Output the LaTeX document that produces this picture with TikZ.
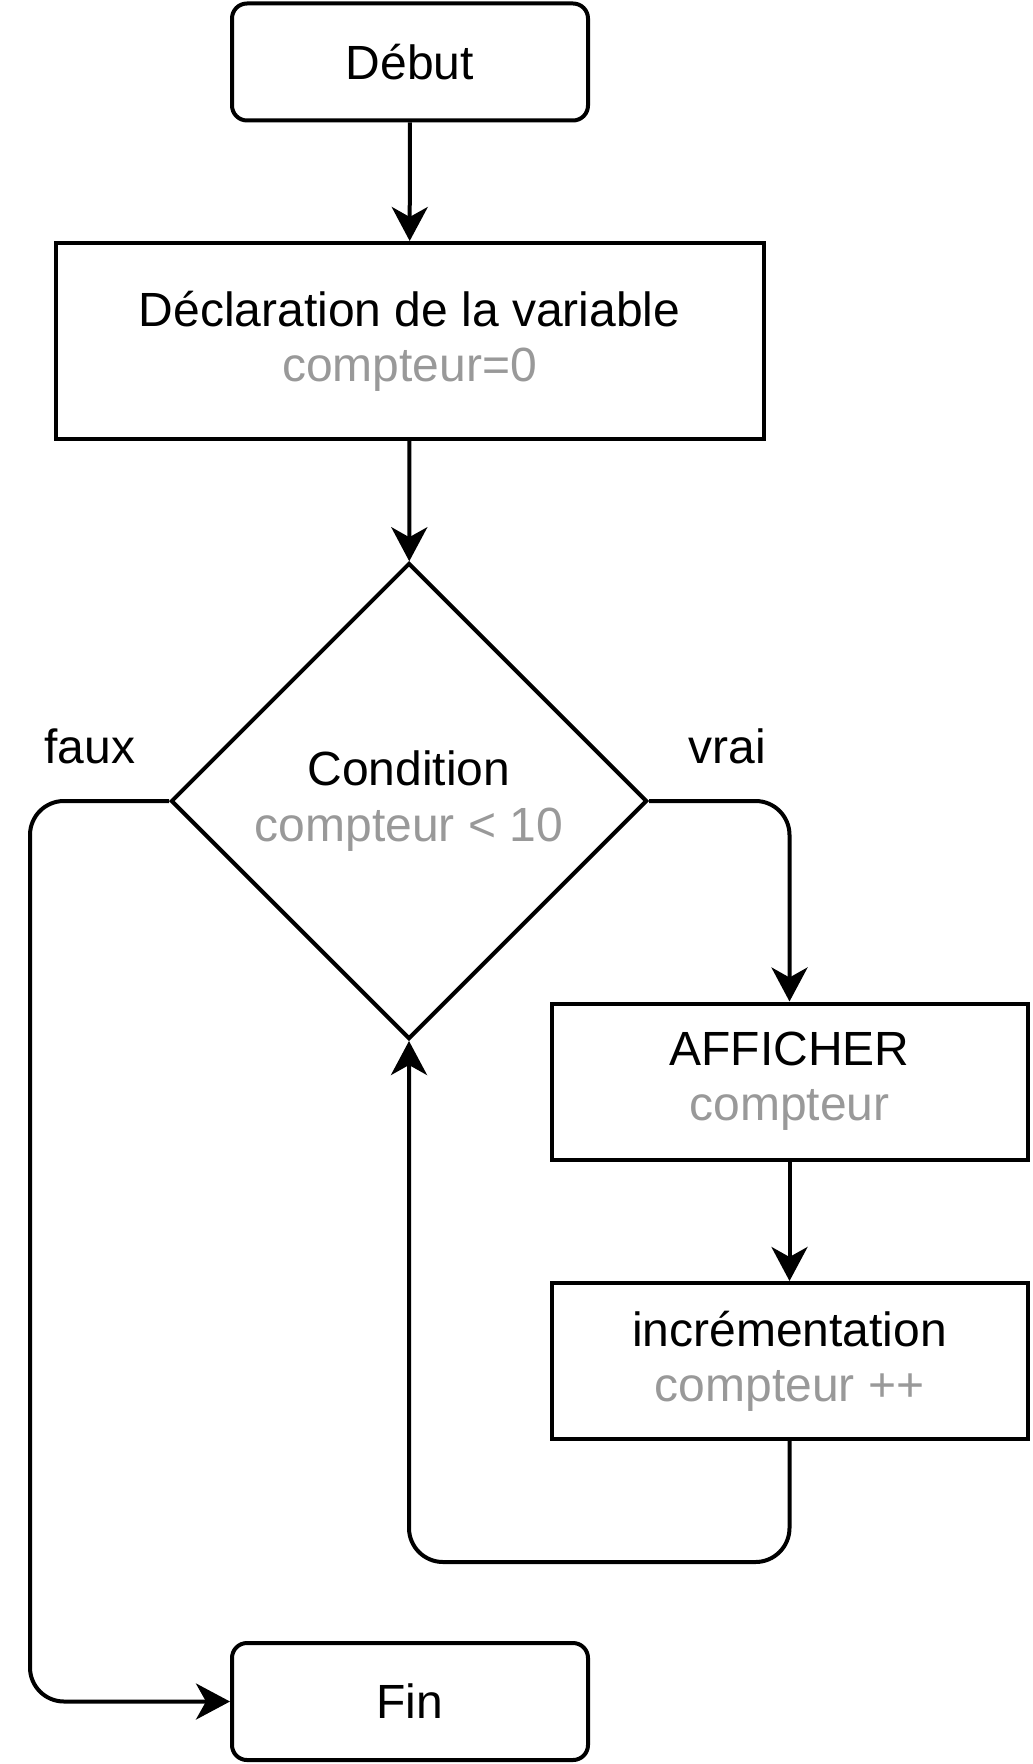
\documentclass[tikz,border=0pt]{standalone}
\usepackage{fontspec}
\setmainfont{Liberation Sans}
\usetikzlibrary{shapes.geometric, arrows.meta}
\definecolor{grisclair}{HTML}{999999}

\begin{document}
\begin{tikzpicture}[x=0.5pt, y=-0.5pt, line width=2pt, every node/.style={font=\fontsize{24}{27.6}\selectfont, align=center}]
\useasboundingbox (0.0, 0.0) rectangle (1032.0, 1764.0);
\tikzset{bornestyle/.style={draw, rounded corners=7.5pt, minimum width=178pt, minimum height=58.5pt, inner sep=0pt}};
\tikzset{boitestyle/.style={draw, minimum width=238pt, minimum height=78pt, inner sep=0pt}};
\node[bornestyle] (debut) at (410.0, 62.0) {Début};
\node[boitestyle, minimum width=354pt, minimum height=98pt] (decl) at (409.5, 341.0) {Déclaration de la variable\\ \textcolor{grisclair}{compteur=0}};
\node[draw, diamond, aspect=1, inner sep=0pt, minimum width=238pt, minimum height=238pt] (cond) at (409.0, 801.0) {Condition\\ \textcolor{grisclair}{compteur < 10}};
\node[boitestyle] (aff) at (789.5, 1081.5) {AFFICHER\\ \textcolor{grisclair}{compteur}};
\node[boitestyle] (incr) at (789.5, 1361.0) {incrémentation\\ \textcolor{grisclair}{compteur ++}};
\node[bornestyle] (fin) at (410.0, 1701.5) {Fin};

\node (faux) at (90.0, 746.0) {faux};
\node (vrai) at (727.0, 746.0) {vrai};
\coordinate (coinfaux) at (30.0, 801.0);
\coordinate (coinboucle) at (409.0, 1562.0);

\tikzset{fleche/.style={-{Stealth[length=17pt, width=18pt, inset=5pt]}, rounded corners=17pt}};
\draw[fleche] (debut) -- (decl);
\draw[fleche] (decl) -- (cond);
\draw[fleche] (cond.east) -| (aff.north);
\draw[fleche] (aff) -- (incr);
\draw[fleche] (incr.south) |- (coinboucle) -- (cond.south);
\draw[fleche] (cond.west) -- (coinfaux) |- (fin.west);
\end{tikzpicture}
\end{document}
